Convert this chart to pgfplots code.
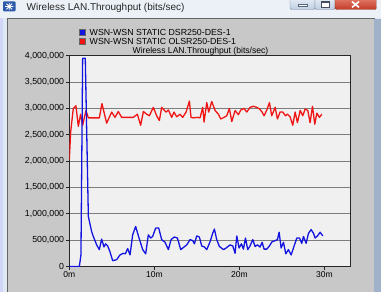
\documentclass[border=0pt]{standalone}
\usepackage{pgfplots}
\pgfplotsset{compat=1.18}
\usepackage{fontspec}
\setmainfont{Liberation Sans}
\definecolor{framecol}{RGB}{222,232,243}
\definecolor{titlebar}{RGB}{236,241,248}
\definecolor{panelgray}{RGB}{200,200,200}
\definecolor{plotbg}{RGB}{240,240,240}
\definecolor{gridcol}{RGB}{125,125,125}
\definecolor{dsrblue}{RGB}{20,20,225}
\definecolor{olsrred}{RGB}{240,20,20}
\definecolor{btnlight}{RGB}{233,239,246}
\definecolor{btndark}{RGB}{190,206,226}
\definecolor{btnborder}{RGB}{110,128,155}
\definecolor{closetop}{RGB}{228,130,112}
\definecolor{closebot}{RGB}{196,58,40}
\definecolor{rightframe}{RGB}{160,178,202}

\begin{document}
\begin{tikzpicture}[x=1pt,y=1pt]
\useasboundingbox (0,0) rectangle (381,292);
\begin{scope}
\clip (0,0) rectangle (381,292);
\fill[framecol] (0,0) rectangle (381,292);
\fill[titlebar] (0,274) rectangle (381,292);
\fill[framecol!85!blue!70!white] (0,0) rectangle (3,274);
\fill[panelgray] (7.5,0) rectangle (374,273.7);
\draw[black!60, line width=0.8pt] (7.5,0) -- (7.5,273.7) -- (374,273.7) -- (374,0);
\fill[rightframe] (374.4,0) rectangle (381,273.3);
% icon
\fill[rounded corners=1pt, fill={rgb,255:red,45;green,90;blue,170}] (3,280.5) rectangle (15.5,290.5);
\draw[white, line width=0.8pt] (9.25,281.8)--(9.25,289.2) (5.2,285.5)--(13.3,285.5) (6.4,282.7)--(12.1,288.3) (6.4,288.3)--(12.1,282.7);
\node[anchor=west, inner sep=0pt, font=\fontsize{10}{12}\selectfont, text=black!85] at (26.5,284) {Wireless LAN.Throughput (bits/sec)};
% window buttons
\shade[top color=btnlight, bottom color=btndark, draw=btnborder, rounded corners=2pt] (290,282.5) rectangle (315,295);
\fill[white, draw=btnborder!80!black, line width=0.4pt] (298,285.3) rectangle (307.5,287.5);
\shade[top color=btnlight, bottom color=btndark, draw=btnborder, rounded corners=2pt] (315,282.5) rectangle (335,295);
\draw[btnborder!60!black, line width=0.6pt, fill=white] (321,284.6) rectangle (329.5,290.4);
\draw[btnborder!60!black, line width=1pt] (321,289.8) -- (329.5,289.8);
\shade[top color=closetop, bottom color=closebot, draw=closebot!70!black, rounded corners=2pt] (335,282.5) rectangle (376.5,295);
\draw[white, line width=1.6pt] (352,284.6) -- (359,290.4) (352,290.4) -- (359,284.6);
\end{scope}

% legend
\draw[fill=dsrblue, draw=black!60, line width=0.4pt] (79,256.8) rectangle (85.5,263.2);
\node[anchor=base west, inner sep=0pt, font=\fontsize{8.8}{10}\selectfont] at (89.5,256.8) {WSN-WSN STATIC DSR250-DES-1};
\draw[fill=olsrred, draw=black!60, line width=0.4pt] (79,247.3) rectangle (85.5,253.7);
\node[anchor=base west, inner sep=0pt, font=\fontsize{8.8}{10}\selectfont] at (89.5,247.3) {WSN-WSN STATIC OLSR250-DES-1};
% plot title
\node[anchor=base, inner sep=0pt, font=\fontsize{8.6}{10}\selectfont] at (200.5,238.9) {Wireless LAN.Throughput (bits/sec)};

\begin{axis}[
  at={(69.3pt,25.5pt)}, anchor=south west,
  scale only axis, width=280.7pt, height=210.8pt,
  xmin=0, xmax=33, ymin=0, ymax=4000000,
  axis background/.style={fill=plotbg},
  axis line style={black!85, line width=0.8pt},
  ytick={0,500000,1000000,1500000,2000000,2500000,3000000,3500000,4000000},
  yticklabels={{0},{500,000},{1,000,000},{1,500,000},{2,000,000},{2,500,000},{3,000,000},{3,500,000},{4,000,000}},
  xtick={0,10,20,30}, xticklabels={0m,10m,20m,30m},
  scaled y ticks=false, scaled x ticks=false,
  tick align=outside, major tick length=3.5pt,
  xtick pos=bottom, ytick pos=left,
  ymajorgrids, major grid style={gridcol, line width=0.7pt},
  tick style={black!85, line width=0.7pt},
  yticklabel style={font=\fontsize{8.8}{10}\selectfont, inner sep=1.5pt},
  xticklabel style={font=\fontsize{8.5}{10}\selectfont, inner sep=1.5pt},
]
\addplot[olsrred, line width=1.3pt, line join=round]
coordinates {(0,2020000) (0.16,2550000) (0.47,3000000) (0.78,3050000) (1.06,2660000) (1.33,2890000) (1.57,2680000) (1.96,2960000) (2.24,2820000) (3.53,2820000) (3.84,3090000) (4.39,2720000) (4.98,2930000) (5.37,2830000) (5.76,2940000) (6.16,2830000) (7.53,2830000) (8.00,2890000) (8.39,2680000) (8.71,2940000) (9.10,2890000) (9.41,2860000) (9.88,3020000) (10.27,2860000) (10.59,2770000) (10.86,3020000) (11.37,2930000) (11.65,2970000) (12.04,2830000) (12.31,2930000) (12.63,2840000) (13.02,2890000) (13.33,2830000) (13.73,2930000) (14.12,3140000) (14.31,2830000) (14.59,2820000) (15.06,2830000) (15.37,2820000) (15.69,3020000) (15.84,2740000) (16.16,3110000) (16.39,2930000) (16.75,3130000) (17.14,2960000) (17.53,2890000) (17.80,2800000) (18.20,2830000) (18.51,2860000) (18.82,3000000) (19.10,2750000) (19.49,2960000) (19.88,2880000) (20.16,2970000) (20.55,3000000) (20.86,2930000) (21.25,3020000) (21.65,3040000) (22.04,3020000) (22.35,2990000) (22.63,2940000) (22.90,2860000) (23.22,2970000) (23.53,3110000) (23.80,2860000) (24.20,3020000) (24.47,2800000) (24.78,2930000) (25.10,2930000) (25.41,2860000) (25.65,2890000) (25.96,2840000) (26.27,2680000) (26.55,2930000) (26.82,2730000) (27.14,2960000) (27.45,2860000) (27.73,2990000) (28.04,2960000) (28.31,2730000) (28.59,3040000) (28.86,2700000) (29.10,2910000) (29.41,2830000) (29.69,2890000)};
\addplot[dsrblue, line width=1.3pt, line join=round]
coordinates {(0,0) (1.18,0) (1.37,220000) (1.57,3950000) (1.88,3950000) (2.24,950000) (2.63,660000) (2.82,570000) (3.22,410000) (3.53,320000) (3.80,520000) (4.08,370000) (4.27,430000) (4.51,390000) (4.78,280000) (5.10,110000) (5.57,130000) (5.96,220000) (6.35,250000) (6.59,240000) (6.86,340000) (7.14,220000) (7.45,600000) (7.80,760000) (8.20,540000) (8.63,320000) (8.98,240000) (9.29,600000) (9.57,540000) (9.80,570000) (10.16,730000) (10.51,730000) (10.86,510000) (11.25,460000) (11.65,320000) (11.96,510000) (12.35,560000) (12.71,540000) (13.10,320000) (13.49,370000) (13.80,410000) (14.20,510000) (14.51,490000) (14.71,430000) (14.98,580000) (15.29,560000) (15.57,390000) (15.88,370000) (16.16,320000) (16.55,470000) (16.86,630000) (17.06,710000) (17.33,510000) (17.65,380000) (18.12,320000) (18.43,350000) (18.90,410000) (19.22,390000) (19.49,250000) (19.69,580000) (19.96,350000) (20.24,430000) (20.47,330000) (20.71,540000) (20.98,320000) (21.25,390000) (21.57,510000) (21.84,380000) (22.12,410000) (22.43,370000) (22.67,460000) (22.90,330000) (23.22,330000) (23.53,390000) (23.84,470000) (24.20,490000) (24.47,510000) (24.67,650000) (24.90,350000) (25.18,460000) (25.45,240000) (25.76,320000) (26.08,220000) (26.35,350000) (26.75,540000) (27.06,540000) (27.33,440000) (27.53,570000) (27.84,440000) (28.12,630000) (28.43,700000) (28.71,630000) (28.90,540000) (29.18,580000) (29.49,650000) (29.80,580000)};
\end{axis}
\end{tikzpicture}
\end{document}
